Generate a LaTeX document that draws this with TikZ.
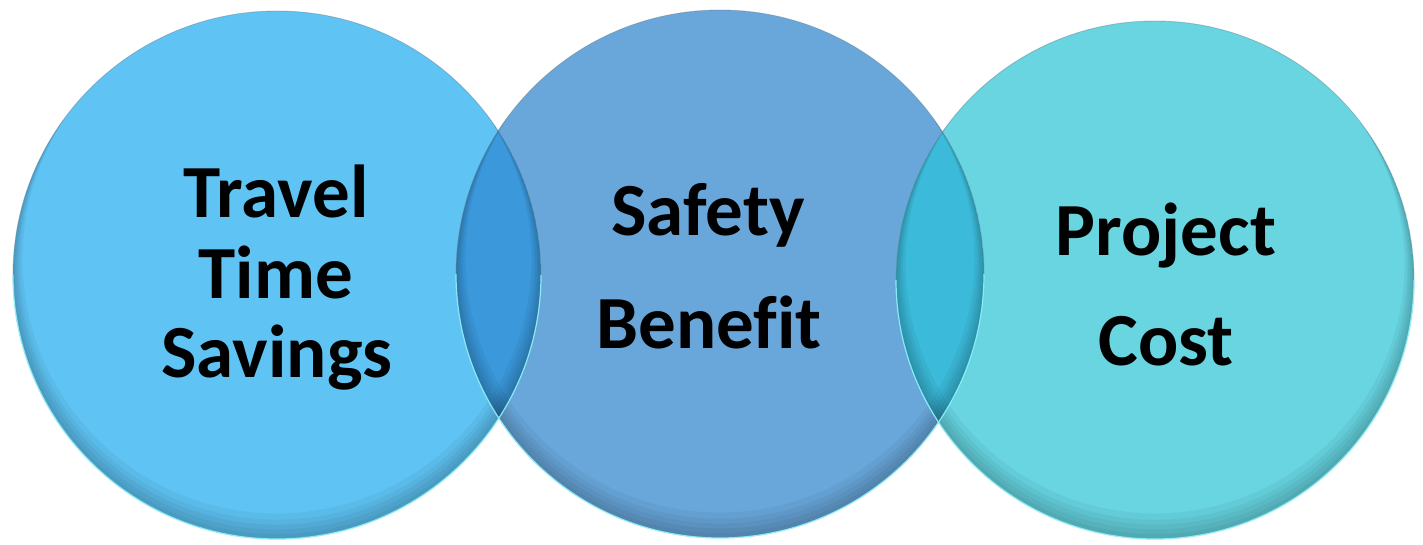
\documentclass[tikz,border=0pt]{standalone}
\usepackage{fontspec}
\setmainfont{Carlito}[Ligatures=NoCommon]
\definecolor{cL}{HTML}{5FC4F4}
\definecolor{cM}{HTML}{69A7DB}
\definecolor{cR}{HTML}{68D5E1}
\definecolor{cLM}{HTML}{3A98DB}
\definecolor{cMR}{HTML}{3BBAD9}
\definecolor{rimtop}{HTML}{6E8A99}
\definecolor{rimlow}{HTML}{8FF4FF}
\begin{document}
\begin{tikzpicture}[x=1pt,y=-1pt,
  disc/.style={circle, inner sep=0pt, minimum size=#1, draw=none},
  lbl/.style={font=\bfseries\fontsize{75}{80}\selectfont, text=black, inner sep=0pt, anchor=base},
  crescent/.style={fill=black, fill opacity=0.045, even odd rule},
  edgeline/.style={draw=rimtop, draw opacity=0.4, line width=0.9pt},
  lowrim/.style={draw=rimlow, draw opacity=0.9, line width=1.2pt}]
\useasboundingbox (0,0) rectangle (1423,545);
% discs
\node[disc=528pt, fill=cL] (L) at (277,275) {};
\node[disc=528pt, fill=cM] (M) at (720,274) {};
\node[disc=518pt, fill=cR] (R) at (1155,280) {};
% overlaps
\begin{scope}
  \clip (L.center) circle (264pt);
  \fill[cLM] (M.center) circle (264pt);
\end{scope}
\begin{scope}
  \clip (M.center) circle (264pt);
  \fill[cMR] (R.center) circle (259pt);
\end{scope}
% bevel shading (soft crescents)
\foreach \c/\r in {L/264, M/264, R/259}{
  \begin{scope}
    \clip (\c.center) circle (\r pt);
    \foreach \s in {3,6,9,12,16}{
      \pgfmathsetmacro\rr{\r-\s*0.6}
      \fill[crescent] (\c.center) circle (\r pt) ([yshift=\s pt]\c.center) circle (\rr pt);
    }
  \end{scope}
}
% edges
\draw[edgeline] (L.center) circle (264pt);
\draw[edgeline] (M.center) circle (264pt);
\draw[edgeline] (R.center) circle (259pt);
\draw[lowrim] ([xshift=-264pt]L.center) arc[start angle=180, end angle=360, radius=264pt];
\draw[lowrim] ([xshift=-264pt]M.center) arc[start angle=180, end angle=360, radius=264pt];
\draw[lowrim] ([xshift=-259pt]R.center) arc[start angle=180, end angle=360, radius=259pt];
% labels
\node[lbl] (t1) at (276,218) {Travel};
\node[lbl] (t2) at (276,298) {Time};
\node[lbl] (t3) at (277,377) {Savings};
\node[lbl] (s1) at (708,236) {Safety};
\node[lbl] (s2) at (709,348) {Benefit};
\node[lbl] (p1) at (1166,255) {Project};
\node[lbl] (p2) at (1166,365) {Cost};
\end{tikzpicture}
\end{document}
